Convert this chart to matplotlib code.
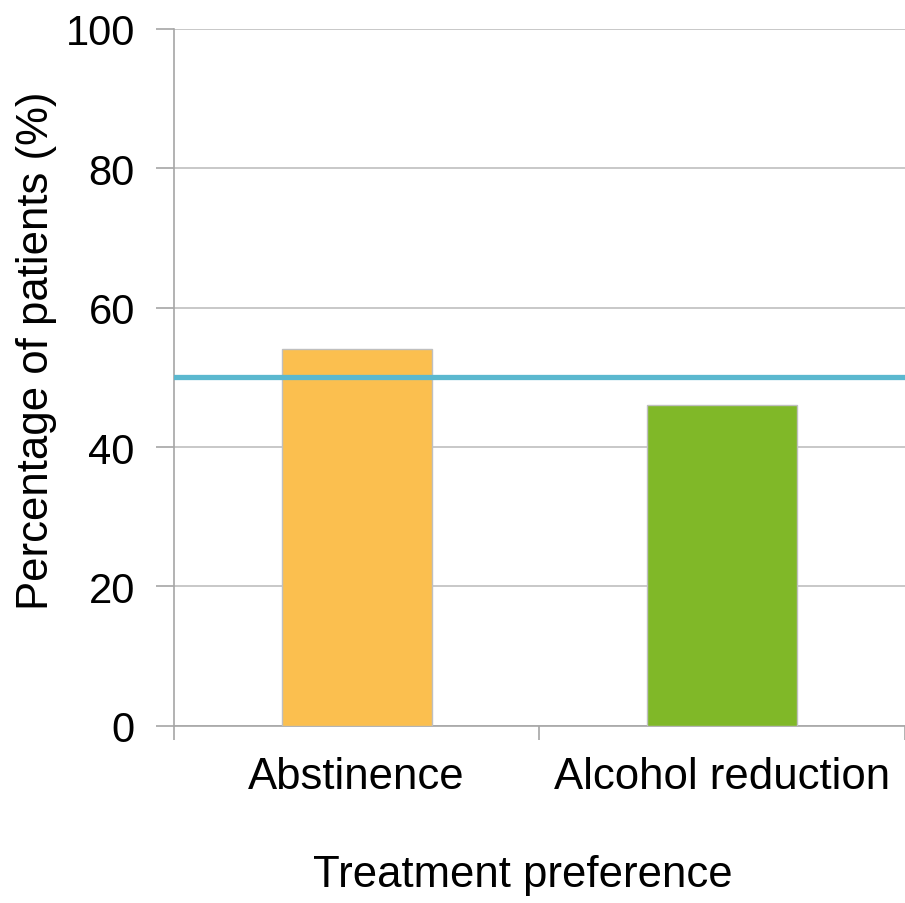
import matplotlib
matplotlib.use("Agg")
import matplotlib.pyplot as plt

categories = ["Abstinence", "Alcohol reduction"]
values = [54, 46]
colors = ["#FBBF4F", "#80B828"]
reference_line = 50
yticks = [0, 20, 40, 60, 80, 100]

plt.rcParams['font.family'] = ['Liberation Sans', 'DejaVu Sans']

fig = plt.figure(figsize=(9.05, 9.04), dpi=100)
ax = fig.add_axes([0.192, 0.196, 0.808, 0.771])

x = list(range(len(categories)))
ax.bar(x, values, width=0.41, color=colors, edgecolor="#BFBFBF", linewidth=1, zorder=3)
ax.axhline(reference_line, color="#5BB8CF", linewidth=3.8, zorder=4)

ax.set_xlim(-0.5, 1.5)
ax.set_ylim(0, 100)
ax.set_yticks(yticks)
ax.yaxis.grid(True, color="#BFBFBF", linewidth=1.2, zorder=0)
ax.set_axisbelow(True)

ax.set_xticks([-0.5, 0.5, 1.5])
ax.set_xticklabels([])
ax.set_xticks(x, minor=True)
ax.set_xticklabels(categories, minor=True)
ax.tick_params(axis='x', which='minor', length=0, labelsize=31.5, pad=22)
ax.tick_params(axis='x', which='major', length=10, width=1.2, color="#A6A6A6", direction='out')
ax.tick_params(axis='y', length=13, width=1.2, color="#A6A6A6", labelsize=30, pad=15)

for s in ['top', 'right']:
    ax.spines[s].set_visible(False)
for s in ['left', 'bottom']:
    ax.spines[s].set_color("#A6A6A6")
    ax.spines[s].set_linewidth(1.2)

ax.set_ylabel("Percentage of patients (%)", fontsize=31.5)
ax.yaxis.set_label_coords(-0.16, 0.54)
ax.set_xlabel("Treatment preference", fontsize=31.5)
ax.xaxis.set_label_coords(0.477, -0.184)

fig.savefig("out.png", dpi=100)
